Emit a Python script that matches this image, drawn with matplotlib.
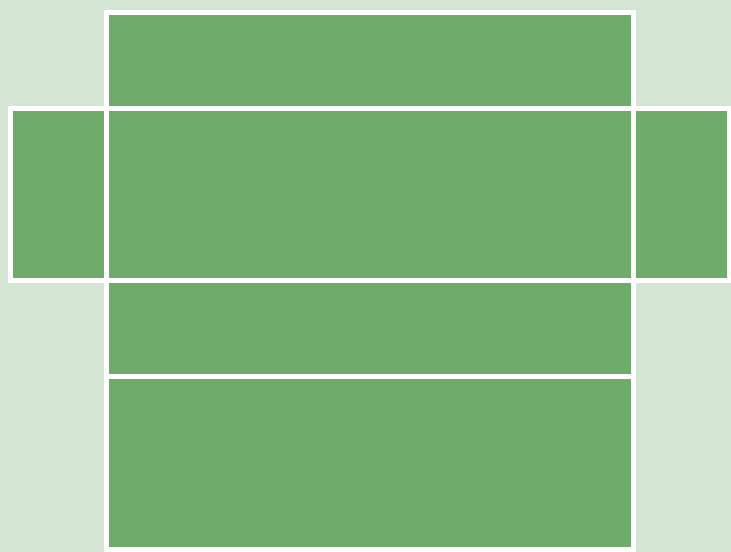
import matplotlib.pyplot as plt
from matplotlib.patches import Rectangle

# box dimensions (data units) for the unfolded net
length = 11.0
width = 2.0
height = 3.6

faces = ['top', 'left', 'front', 'right', 'bottom', 'back']

face_color = '#6fab6b'
bg_color = '#d4e6d3'


def net_rects(l, w, h):
    """Return (x, y, dx, dy) for every face of the cross-shaped net."""
    return {
        'back': (w, 0, l, h),
        'bottom': (w, h, l, w),
        'front': (w, h + w, l, h),
        'left': (0, h + w, w, h),
        'right': (w + l, h + w, w, h),
        'top': (w, 2 * h + w, l, w),
    }


fig = plt.figure(figsize=(7.31, 5.52), dpi=100)
fig.patch.set_facecolor(bg_color)
ax = fig.add_axes([0, 0, 1, 1])
ax.set_facecolor(bg_color)

rects = net_rects(length, width, height)
for name in faces:
    x, y, dx, dy = rects[name]
    ax.add_patch(Rectangle((x, y), dx, dy, facecolor=face_color,
                           edgecolor='white', linewidth=3.6))

scale = 47.95  # pixels per unit
ax.set_xlim(-9.8 / scale, (731 - 9.8) / scale)
ax.set_ylim(-3 / scale, 549 / scale)
ax.axis('off')

fig.savefig('out.png', dpi=100, facecolor=bg_color)
